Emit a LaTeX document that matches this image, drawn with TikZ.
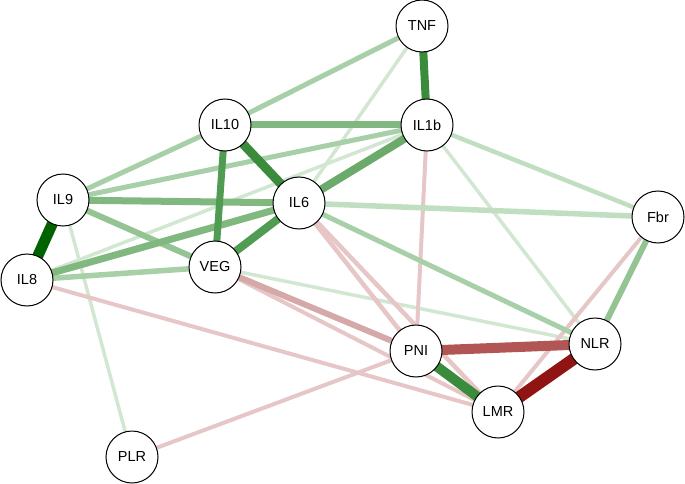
\documentclass[tikz,border=0pt]{standalone}
\usepackage{fontspec}
\setmainfont{Liberation Sans}
\usetikzlibrary{backgrounds}
\definecolor{ga}{HTML}{D2E7D2}
\definecolor{gb}{HTML}{C0DEC0}
\definecolor{gc}{HTML}{A8D0A8}
\definecolor{gd}{HTML}{94C494}
\definecolor{ge}{HTML}{80B880}
\definecolor{gf}{HTML}{6CAA6C}
\definecolor{gg}{HTML}{519C53}
\definecolor{gh}{HTML}{3A8B3C}
\definecolor{gi}{HTML}{006300}
\definecolor{ra}{HTML}{E6C6C6}
\definecolor{rb}{HTML}{D6A9A9}
\definecolor{rc}{HTML}{B25555}
\definecolor{rd}{HTML}{911414}
\tikzset{
  vtx/.style={circle, draw=black, line width=1pt, fill=white, minimum size=52pt, inner sep=0pt, font=\fontsize{14.5}{17}\selectfont},
  ew/.style={line width=#1pt}
}
\begin{document}
\begin{tikzpicture}[x=1pt,y=-1pt]
\useasboundingbox (0,0) rectangle (685,484);
\node[vtx] (TNF) at (422,26) {TNF};
\node[vtx] (IL1b) at (427,125) {IL1b};
\node[vtx] (IL10) at (225,125) {IL10};
\node[vtx] (IL9) at (63,200) {IL9};
\node[vtx] (IL6) at (299,203) {IL6};
\node[vtx] (Fbr) at (658,217) {Fbr};
\node[vtx] (IL8) at (27,280) {IL8};
\node[vtx] (VEG) at (215,267) {VEG};
\node[vtx] (PNI) at (416,351) {PNI};
\node[vtx] (NLR) at (595,344) {NLR};
\node[vtx] (LMR) at (498,412) {LMR};
\node[vtx] (PLR) at (132,457) {PLR};
\begin{scope}[on background layer]
  % lightest green
  \draw[ga, ew=3.5] (IL9.center) -- (PLR.center);
  \draw[ga, ew=3.5] (IL8.center) -- (IL1b.center);
  \draw[ga, ew=3.5] (IL6.center) -- (TNF.center);
  \draw[ga, ew=3.5] (IL1b.center) -- (NLR.center);
  \draw[ga, ew=3.5] (VEG.center) -- (NLR.center);
  % red light
  \draw[ra, ew=4] (IL1b.center) -- (PNI.center);
  \draw[ra, ew=4.5] (IL6.center) -- (PNI.center);
  \draw[ra, ew=4.5] (IL6.center) -- (LMR.center);
  \draw[ra, ew=4] (VEG.center) -- (LMR.center);
  \draw[ra, ew=4] (IL8.center) -- (LMR.center);
  \draw[ra, ew=4] (PLR.center) -- (PNI.center);
  \draw[ra, ew=4] (Fbr.center) -- (LMR.center);
  % light green
  \draw[gb, ew=4.5] (IL1b.center) -- (Fbr.center);
  \draw[gb, ew=5.5] (IL6.center) -- (Fbr.center);
  \draw[gc, ew=5] (IL9.center) -- (IL10.center);
  \draw[gc, ew=5] (IL10.center) -- (TNF.center);
  \draw[gc, ew=5] (IL9.center) -- (IL1b.center);
  \draw[gc, ew=5.5] (IL8.center) -- (VEG.center);
  \draw[gc, ew=5] (IL6.center) -- (NLR.center);
  \draw[rb, ew=6] (VEG.center) -- (PNI.center);
  \draw[gd, ew=6] (IL9.center) -- (VEG.center);
  \draw[gd, ew=6] (Fbr.center) -- (NLR.center);
  \draw[ge, ew=7] (IL10.center) -- (IL1b.center);
  \draw[ge, ew=7] (IL9.center) -- (IL6.center);
  \draw[ge, ew=7] (IL8.center) -- (IL6.center);
  \draw[gf, ew=8] (IL6.center) -- (IL1b.center);
  \draw[gg, ew=8] (IL6.center) -- (VEG.center);
  \draw[gg, ew=7] (IL10.center) -- (VEG.center);
  \draw[gh, ew=8] (TNF.center) -- (IL1b.center);
  \draw[gh, ew=9] (IL10.center) -- (IL6.center);
  \draw[gh, ew=10] (PNI.center) -- (LMR.center);
  \draw[rc, ew=10] (PNI.center) -- (NLR.center);
  \draw[gi, ew=11] (IL9.center) -- (IL8.center);
  \draw[rd, ew=12] (NLR.center) -- (LMR.center);
\end{scope}
\end{tikzpicture}
\end{document}
